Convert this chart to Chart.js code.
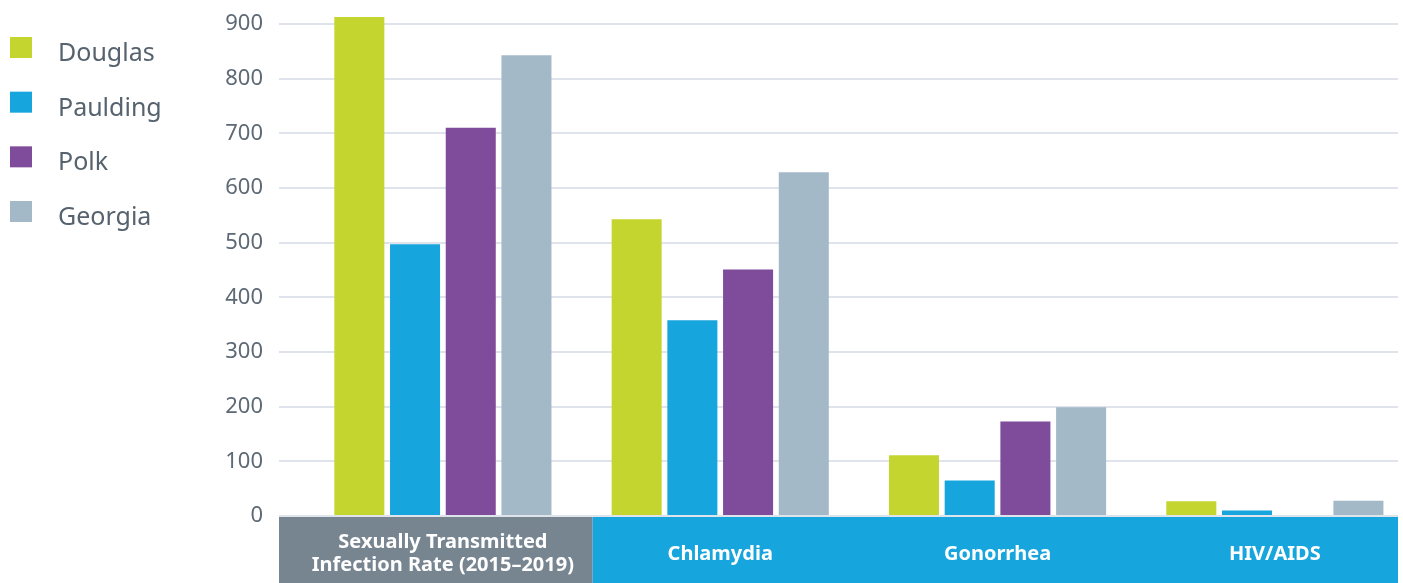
<!DOCTYPE html>
<html>
<head>
<meta charset="utf-8">
<script src="https://cdn.jsdelivr.net/npm/chart.js@4.4.1/dist/chart.umd.min.js"></script>
<style>
  html, body { margin: 0; padding: 0; background: #fff; }
  canvas { display: block; }
</style>
</head>
<body>
<canvas id="chart" width="1403" height="583"></canvas>
<script>
// categories along the bottom band (first one wraps on two lines)
const categories = [
  ['Sexually Transmitted', 'Infection Rate (2015–2019)'],
  'Chlamydia',
  'Gonorrhea',
  'HIV/AIDS'
];
const seriesNames = ['Douglas', 'Paulding', 'Polk', 'Georgia'];
const douglas = [913, 543, 111, 27];
const paulding = [497, 358, 65, 10];
const polk = [710, 451, 173, null];
const georgia = [843, 629, 199, 28];
const yTicks = [0, 100, 200, 300, 400, 500, 600, 700, 800, 900];

const colors = ['#c3d52e', '#17a5de', '#7f4b9b', '#a4b9c7'];
const textColor = '#56636e';
const fontFamily = '"Noto Sans", sans-serif';

let toPoints = vals => vals.map((v, i) => ({ x: i, y: v }));

// legend on the left and the coloured label band under the plot
const sidePlugin = {
    id: 'side',
    afterDraw(chart) {
        const ctx = chart.ctx;
        const area = chart.chartArea;
        const xs = chart.scales.x;
        ctx.save();

        chart.data.datasets.forEach((ds, i) => {
            const top = 37 + i * 54.67;
            ctx.fillStyle = ds.backgroundColor;
            ctx.fillRect(10, top, 22, 21);
            ctx.fillStyle = textColor;
            ctx.font = '25px ' + fontFamily;
            ctx.textAlign = 'left';
            ctx.textBaseline = 'alphabetic';
            ctx.fillText(ds.label, 58, top + 24);
        });

        // grey cell under the first category, blue under the rest
        const bandTop = area.bottom + 1;
        const bandH = chart.height - bandTop;
        const split = xs.getPixelForValue(0.54);
        ctx.fillStyle = '#778591';
        ctx.fillRect(area.left, bandTop, split - area.left, bandH);
        ctx.fillStyle = '#17a5de';
        ctx.fillRect(split, bandTop, area.right - split, bandH);

        ctx.fillStyle = '#ffffff';
        ctx.font = 'bold 20px ' + fontFamily;
        ctx.textAlign = 'center';
        ctx.textBaseline = 'middle';
        categories.forEach((c, i) => {
            const lines = [].concat(c);
            const cx = xs.getPixelForValue(i);
            const cy = bandTop + bandH / 2 + 4;
            lines.forEach((line, j) => {
                ctx.fillText(line, cx, cy + (j - (lines.length - 1) / 2) * 23.5);
            });
        });
        ctx.restore();
    }
};

const data = {
    datasets: [douglas, paulding, polk, georgia].map((vals, i) => ({
        label: seriesNames[i],
        data: toPoints(vals),
        backgroundColor: colors[i],
        borderWidth: 0,
        categoryPercentage: 0.8035,
        barPercentage: 0.898,
        clip: false
    }))
};

const config = {
    type: 'bar',
    data: data,
    options: {
        responsive: false,
        devicePixelRatio: 1,
        animation: false,
        layout: {
            padding: { left: 219, right: 5, top: 24, bottom: 67 }
        },
        plugins: {
            legend: { display: false },
            tooltip: { enabled: false }
        },
        scales: {
            x: {
                type: 'linear',
                display: false,
                offset: false,
                min: -0.591,
                max: 3.444,
                afterBuildTicks: s => { s.ticks = categories.map((c, i) => ({ value: i })); }
            },
            y: {
                min: 0,
                max: 900,
                afterBuildTicks: s => { s.ticks = yTicks.map(v => ({ value: v })); },
                afterFit: s => {
                    s.width = 60;
                    s.paddingTop = 0;
                    s.paddingBottom = 0;
                },
                border: { display: false },
                grid: {
                    color: '#dfe4ec',
                    lineWidth: 2,
                    drawTicks: false
                },
                ticks: {
                    padding: 16,
                    color: '#5d6975',
                    font: { family: fontFamily, size: 22 }
                }
            }
        }
    },
    plugins: [sidePlugin]
};

new Chart(document.getElementById('chart'), config);
</script>
</body>
</html>
